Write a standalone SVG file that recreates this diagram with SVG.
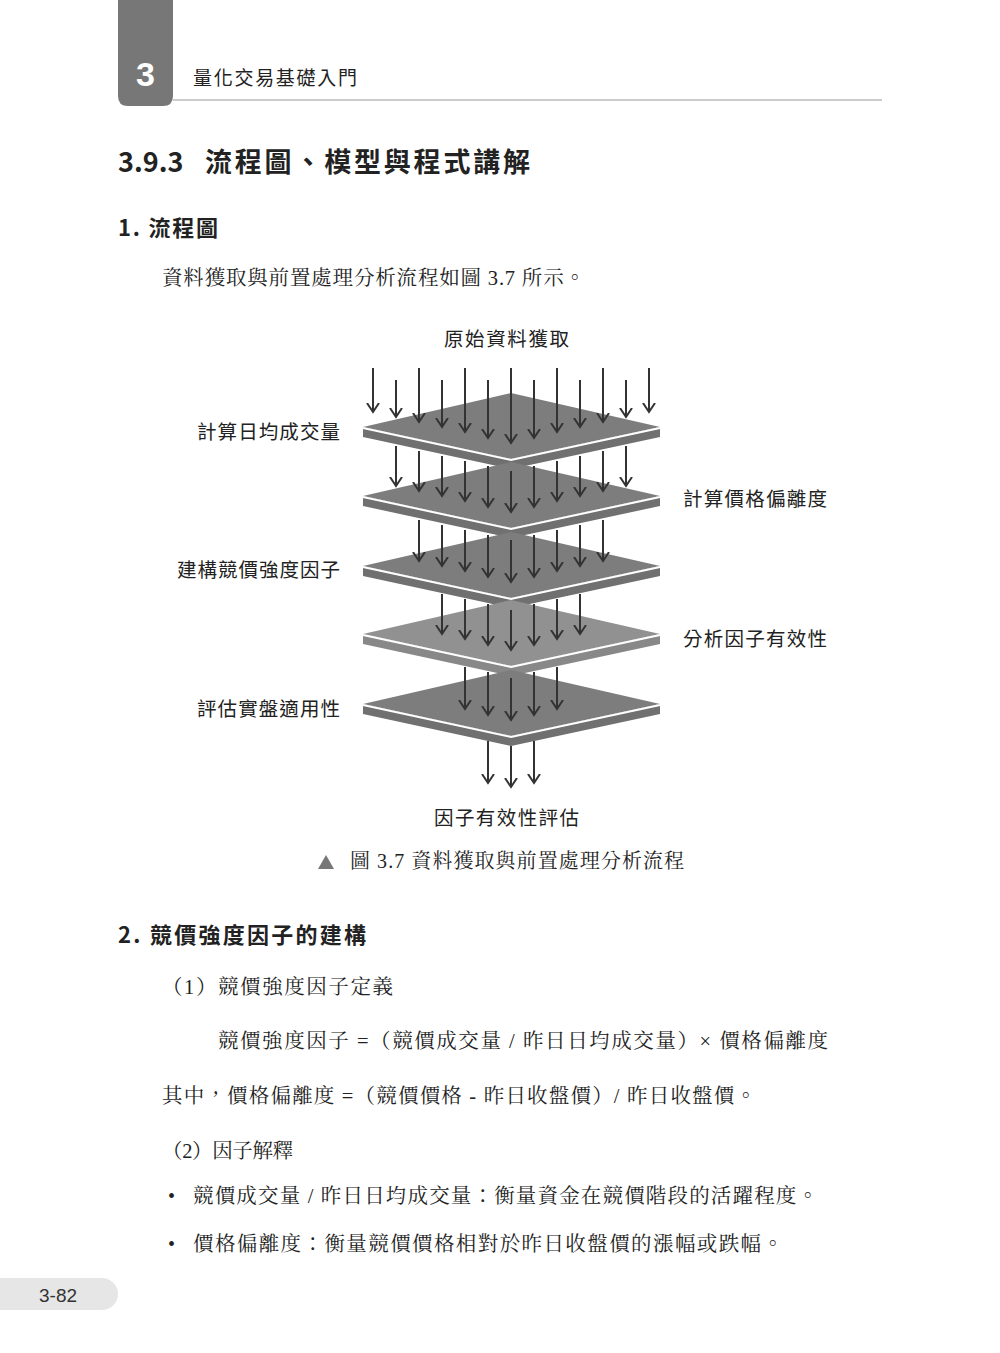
<svg xmlns="http://www.w3.org/2000/svg" width="1000" height="1353" viewBox="0 0 1000 1353">
<style>
.s{font-family:"Noto Sans CJK TC","Noto Sans CJK SC",sans-serif;fill:#222}
.r{font-family:"Liberation Serif","Noto Serif CJK TC","Noto Sans CJK TC",serif;fill:#222}
.lab{font-family:"Noto Sans CJK TC",sans-serif;font-size:19.5px;fill:#222}
.a{stroke:#333;stroke-width:2;fill:none}
</style>
<defs>
<marker id="ah" markerWidth="12" markerHeight="14" refX="9" refY="6" orient="auto" markerUnits="userSpaceOnUse" viewBox="0 0 12 12"><polyline points="0,0 9,6 0,12" fill="none" stroke="#333" stroke-width="2"/></marker>
</defs>
<rect width="1000" height="1353" fill="#fff"/>
<path d="M118 0H173V96Q173 106 163 106H128Q118 106 118 96Z" fill="#777"/>
<text x="145.5" y="86" text-anchor="middle" style="font-family:'Liberation Sans',sans-serif;font-weight:bold;font-size:34px;fill:#fff">3</text>
<text x="193" y="85" class="s" font-size="19" textLength="164" lengthAdjust="spacing">量化交易基礎入門</text>
<line x1="173" y1="100" x2="882" y2="100" stroke="#bbb" stroke-width="1.5"/>
<text x="118" y="172" class="s" font-size="27" font-weight="bold">3.9.3 <tspan x="205" textLength="325" lengthAdjust="spacing">流程圖、模型與程式講解</tspan></text>
<text x="118" y="236" class="s" font-size="22" font-weight="bold" textLength="100" lengthAdjust="spacing">1. 流程圖</text>
<text x="162" y="285" class="r" font-size="20.5" textLength="423" lengthAdjust="spacing">資料獲取與前置處理分析流程如圖 3.7 所示。</text>

<g id="plates">
<g id="p1"><polygon points="363,427 511,459 660,427 660,437 511,469 363,437" fill="#707070"/><polygon points="363,427 511,393 660,427 511,459" fill="#7d7d7d"/><polyline points="363,428 511,460 660,428" stroke="#fff" stroke-width="2" fill="none"/></g>
<g id="p2"><polygon points="363,496 511,528 660,496 660,506 511,538 363,506" fill="#707070"/><polygon points="363,496 511,462 660,496 511,528" fill="#7d7d7d"/><polyline points="363,497 511,529 660,497" stroke="#fff" stroke-width="2" fill="none"/></g>
<g id="p3"><polygon points="363,566 511,598 660,566 660,576 511,608 363,576" fill="#707070"/><polygon points="363,566 511,532 660,566 511,598" fill="#7d7d7d"/><polyline points="363,567 511,599 660,567" stroke="#fff" stroke-width="2" fill="none"/></g>
<g id="p4"><polygon points="363,634 511,666 660,634 660,644 511,676 363,644" fill="#888"/><polygon points="363,634 511,600 660,634 511,666" fill="#919191"/><polyline points="363,635 511,667 660,635" stroke="#fff" stroke-width="2" fill="none"/></g>
<g id="p5"><polygon points="363,704 511,736 660,704 660,714 511,746 363,714" fill="#707070"/><polygon points="363,704 511,670 660,704 511,736" fill="#7d7d7d"/><polyline points="363,705 511,737 660,705" stroke="#fff" stroke-width="2" fill="none"/></g>
</g>

<g id="connectors" class="a" marker-end="url(#ah)">
<line x1="373" y1="368" x2="373" y2="412"/><line x1="396" y1="380" x2="396" y2="417"/><line x1="419" y1="368" x2="419" y2="422"/><line x1="442" y1="380" x2="442" y2="427"/><line x1="465" y1="368" x2="465" y2="432"/><line x1="488" y1="380" x2="488" y2="438"/><line x1="511" y1="368" x2="511" y2="443"/><line x1="534" y1="380" x2="534" y2="438"/><line x1="557" y1="368" x2="557" y2="432"/><line x1="580" y1="380" x2="580" y2="427"/><line x1="603" y1="368" x2="603" y2="422"/><line x1="626" y1="380" x2="626" y2="417"/><line x1="649" y1="368" x2="649" y2="412"/>
<line x1="396" y1="446" x2="396" y2="486"/><line x1="419" y1="451" x2="419" y2="491"/><line x1="442" y1="456" x2="442" y2="496"/><line x1="465" y1="461" x2="465" y2="501"/><line x1="488" y1="466" x2="488" y2="507"/><line x1="511" y1="471" x2="511" y2="512"/><line x1="534" y1="466" x2="534" y2="507"/><line x1="557" y1="461" x2="557" y2="501"/><line x1="580" y1="456" x2="580" y2="496"/><line x1="603" y1="451" x2="603" y2="491"/><line x1="626" y1="446" x2="626" y2="486"/>
<line x1="419" y1="520" x2="419" y2="561"/><line x1="442" y1="525" x2="442" y2="566"/><line x1="465" y1="530" x2="465" y2="571"/><line x1="488" y1="535" x2="488" y2="577"/><line x1="511" y1="540" x2="511" y2="582"/><line x1="534" y1="535" x2="534" y2="577"/><line x1="557" y1="530" x2="557" y2="571"/><line x1="580" y1="525" x2="580" y2="566"/><line x1="603" y1="520" x2="603" y2="561"/>
<line x1="442" y1="594" x2="442" y2="634"/><line x1="465" y1="599" x2="465" y2="639"/><line x1="488" y1="604" x2="488" y2="645"/><line x1="511" y1="610" x2="511" y2="650"/><line x1="534" y1="604" x2="534" y2="645"/><line x1="557" y1="599" x2="557" y2="639"/><line x1="580" y1="594" x2="580" y2="634"/>
<line x1="465" y1="667" x2="465" y2="709"/><line x1="488" y1="672" x2="488" y2="715"/><line x1="511" y1="678" x2="511" y2="720"/><line x1="534" y1="672" x2="534" y2="715"/><line x1="557" y1="667" x2="557" y2="709"/>
<line x1="488" y1="741" x2="488" y2="783"/><line x1="511" y1="746" x2="511" y2="787"/><line x1="534" y1="741" x2="534" y2="783"/>
</g>

<g id="labels" class="lab">
<text x="444" y="346" textLength="125" lengthAdjust="spacing">原始資料獲取</text>
<text x="197" y="439" textLength="143" lengthAdjust="spacing">計算日均成交量</text>
<text x="683" y="506" textLength="144" lengthAdjust="spacing">計算價格偏離度</text>
<text x="177" y="577" textLength="163" lengthAdjust="spacing">建構競價強度因子</text>
<text x="683" y="646" textLength="144" lengthAdjust="spacing">分析因子有效性</text>
<text x="197" y="716" textLength="143" lengthAdjust="spacing">評估實盤適用性</text>
<text x="434" y="825" textLength="145" lengthAdjust="spacing">因子有效性評估</text>
</g>
<polygon points="318,869 326,855 334,869" fill="#777"/>
<text x="350" y="868" class="r" font-size="20" fill="#555" textLength="334" lengthAdjust="spacing">圖 3.7  資料獲取與前置處理分析流程</text>

<text x="118" y="943" class="s" font-size="22" font-weight="bold" textLength="248" lengthAdjust="spacing">2. 競價強度因子的建構</text>
<text x="162" y="994" class="r" font-size="20.5" textLength="231" lengthAdjust="spacing">（1）競價強度因子定義</text>
<text x="218" y="1048" class="r" font-size="20.5" textLength="610" lengthAdjust="spacing">競價強度因子 =（競價成交量 / 昨日日均成交量）× 價格偏離度</text>
<text x="162" y="1103" class="r" font-size="20.5" textLength="594" lengthAdjust="spacing">其中，價格偏離度 =（競價價格 - 昨日收盤價）/ 昨日收盤價。</text>
<text x="162" y="1158" class="r" font-size="20.5" textLength="131" lengthAdjust="spacing">（2）因子解釋</text>
<text x="168" y="1203" class="r" font-size="20">•</text>
<text x="193" y="1203" class="r" font-size="20.5" textLength="625" lengthAdjust="spacing">競價成交量 / 昨日日均成交量：衡量資金在競價階段的活躍程度。</text>
<text x="168" y="1251" class="r" font-size="20">•</text>
<text x="193" y="1251" class="r" font-size="20.5" textLength="590" lengthAdjust="spacing">價格偏離度：衡量競價價格相對於昨日收盤價的漲幅或跌幅。</text>

<path d="M0 1278H102A16 16 0 0 1 102 1310H0Z" fill="#e6e6e6"/>
<text x="58" y="1302" text-anchor="middle" style="font-family:'Liberation Sans',sans-serif;font-size:19px;fill:#333">3-82</text>
</svg>
